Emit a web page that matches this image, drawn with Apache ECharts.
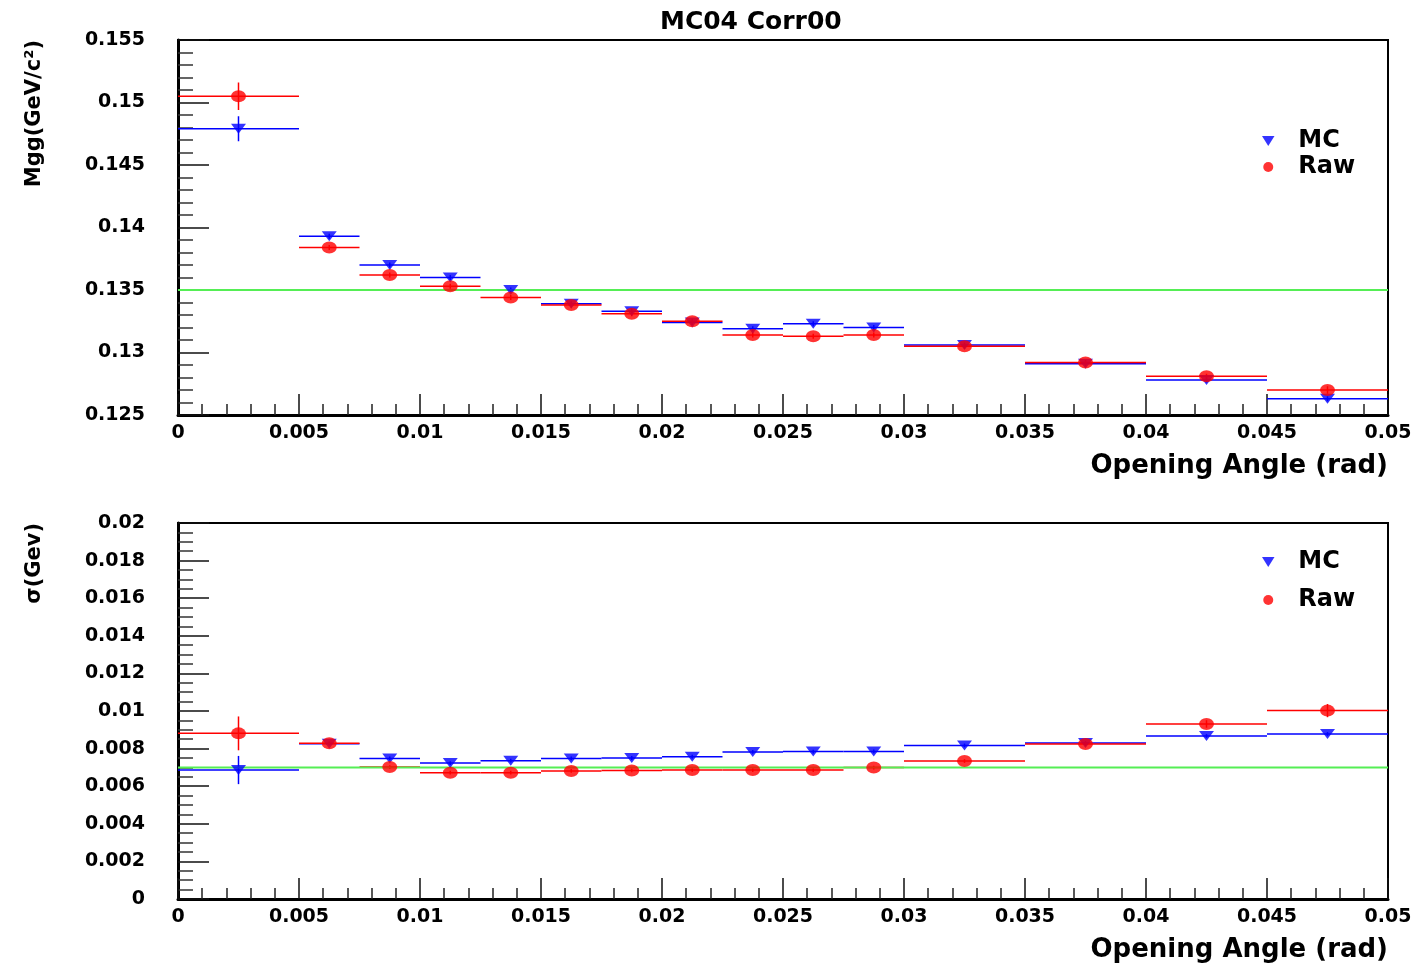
<!DOCTYPE html>
<html>
<head>
<meta charset="utf-8">
<script src="https://cdn.jsdelivr.net/npm/echarts@6/dist/echarts.min.js"></script>
<style>
html,body{margin:0;padding:0;background:#fff;}
#chart{width:1418px;height:968px;}
</style>
</head>
<body>
<div id="chart"></div>
<script>
// ---- data ----
const binLo = [0, 0.005, 0.0075, 0.01, 0.0125, 0.015, 0.0175, 0.02, 0.0225, 0.025, 0.0275, 0.03, 0.035, 0.04, 0.045];
const binHi = [0.005, 0.0075, 0.01, 0.0125, 0.015, 0.0175, 0.02, 0.0225, 0.025, 0.0275, 0.03, 0.035, 0.04, 0.045, 0.05];
const binCenter = [0.0025, 0.00625, 0.00875, 0.01125, 0.01375, 0.01625, 0.01875, 0.02125, 0.02375, 0.02625, 0.02875, 0.0325, 0.0375, 0.0425, 0.0475];

const mcMass = [0.1479, 0.1393, 0.1370, 0.1360, 0.1350, 0.1339, 0.1333, 0.1324, 0.1319, 0.1323, 0.1320, 0.1306, 0.1291, 0.1278, 0.1263];
const mcMassErr = [0.0010, 0.0002, 0.0002, 0.0002, 0.0002, 0.0002, 0.0002, 0.0002, 0.0002, 0.0002, 0.0002, 0.0002, 0.0002, 0.0002, 0.0002];
const rawMass = [0.1505, 0.1384, 0.1362, 0.1353, 0.1344, 0.1338, 0.1331, 0.1325, 0.1314, 0.1313, 0.1314, 0.1305, 0.1292, 0.1281, 0.1270];
const rawMassErr = [0.0011, 0.0002, 0.0002, 0.0002, 0.0002, 0.0002, 0.0002, 0.0002, 0.0002, 0.0002, 0.0002, 0.0002, 0.0002, 0.0002, 0.0003];

const mcSigma = [0.00686, 0.00826, 0.00748, 0.00723, 0.00736, 0.00748, 0.00750, 0.00757, 0.00782, 0.00784, 0.00785, 0.00817, 0.00830, 0.00867, 0.00878];
const mcSigmaErr = [0.00075, 0.0001, 0.0001, 0.0001, 0.0001, 0.0001, 0.0001, 0.0001, 0.0001, 0.0001, 0.0001, 0.0001, 0.0001, 0.0001, 0.0001];
const rawSigma = [0.00881, 0.00828, 0.00702, 0.00672, 0.00672, 0.00681, 0.00684, 0.00686, 0.00686, 0.00686, 0.00699, 0.00734, 0.00825, 0.00931, 0.01002];
const rawSigmaErr = [0.0009, 0.0001, 0.0001, 0.0001, 0.0001, 0.0001, 0.0001, 0.0001, 0.0001, 0.0001, 0.0001, 0.0001, 0.0001, 0.0002, 0.00035];

const pi0Mass = 0.135;
const refSigma = 0.007;

const xTickLabels = ['0', '0.005', '0.01', '0.015', '0.02', '0.025', '0.03', '0.035', '0.04', '0.045', '0.05'];
const yTopTickLabels = ['0.125', '0.13', '0.135', '0.14', '0.145', '0.15', '0.155'];
const yBotTickLabels = ['0', '0.002', '0.004', '0.006', '0.008', '0.01', '0.012', '0.014', '0.016', '0.018', '0.02'];

const titleText = 'MC04 Corr00';
const xTitle = 'Opening Angle (rad)';
const yTopTitle = 'Mgg(GeV/c²)';
const yBotTitle = 'σ(Gev)';

// ---- helpers ----
const FONT = 'DejaVu Sans';
const RED = '#ff0000', BLUE = '#0000ff', GREEN = '#55ee55';

function errData(vals, errs) {
  return vals.map((v, i) => [binLo[i], binHi[i], binCenter[i], v, errs[i]]);
}
function ptData(vals) { return vals.map((v, i) => [binCenter[i], v]); }

function makeErrRender(color) {
  return function (params, api) {
    const xlo = api.value(0), xhi = api.value(1), xc = api.value(2), y = api.value(3), e = api.value(4);
    const a = api.coord([xlo, y]), b = api.coord([xhi, y]);
    const c = api.coord([xc, y + e]), d = api.coord([xc, y - e]);
    const st = { stroke: color, lineWidth: 1.5 };
    return {
      type: 'group',
      children: [
        { type: 'line', shape: { x1: a[0], y1: a[1], x2: b[0], y2: b[1] }, style: st },
        { type: 'line', shape: { x1: c[0], y1: c[1], x2: d[0], y2: d[1] }, style: st }
      ]
    };
  };
}

function xAxisCfg(gridIndex) {
  return {
    type: 'value', gridIndex: gridIndex, min: 0, max: 0.05, interval: 0.005,
    name: xTitle, nameLocation: 'end', nameGap: 0,
    nameTextStyle: { fontFamily: FONT, fontWeight: 'bold', fontSize: 26, color: '#000', align: 'right', verticalAlign: 'top', padding: [38, 0, 0, 0] },
    axisLine: { show: true, onZero: false, lineStyle: { color: '#000', width: 3 } },
    axisTick: { show: true, inside: true, length: 21, lineStyle: { color: '#111', width: 1.5 } },
    minorTick: { show: true, splitNumber: 5, length: 11, lineStyle: { color: '#222', width: 1.5 } },
    splitLine: { show: false },
    axisLabel: {
      show: true, margin: 9, fontFamily: FONT, fontWeight: 'bold', fontSize: 19, color: '#000',
      showMinLabel: true, showMaxLabel: true,
      formatter: v => xTickLabels[Math.round(v / 0.005)]
    }
  };
}

function yAxisCfg(gridIndex, min, max, interval, minorSplit, labels) {
  return {
    type: 'value', gridIndex: gridIndex, min: min, max: max, interval: interval,
    axisLine: { show: true, onZero: false, lineStyle: { color: '#000', width: 3 } },
    axisTick: { show: true, inside: true, length: 31, lineStyle: { color: '#111', width: 1.5 } },
    minorTick: { show: true, splitNumber: minorSplit, length: 15, lineStyle: { color: '#333', width: 1.5 } },
    splitLine: { show: false },
    axisLabel: {
      show: true, margin: 33, fontFamily: FONT, fontWeight: 'bold', fontSize: 19, color: '#000',
      showMinLabel: true, showMaxLabel: true,
      formatter: v => labels[Math.round((v - min) / interval)]
    }
  };
}

const triPath = 'path://M0,0 L10,0 L5,8 Z';

const legendCommon = {
  orient: 'vertical', itemWidth: 50, itemHeight: 10, symbolKeepAspect: true,
  selectedMode: false,
  textStyle: { fontFamily: FONT, fontWeight: 'bold', fontSize: 24, color: '#000', lineHeight: 20 },
  data: [{ name: 'MC', icon: triPath }, { name: 'Raw', icon: 'circle' }]
};

const option = {
  animation: false,
  backgroundColor: '#fff',
  title: {
    text: titleText, left: 655, top: 5,
    textStyle: { fontFamily: FONT, fontWeight: 'bold', fontSize: 25, color: '#000' }
  },
  legend: [
    Object.assign({}, legendCommon, { left: 1257, top: 124, itemGap: 2 }),
    Object.assign({}, legendCommon, { left: 1257, top: 545, itemGap: 14 })
  ],
  grid: [
    { left: 178, top: 40, width: 1210, height: 375, show: true, borderColor: '#000', borderWidth: 2, backgroundColor: 'transparent' },
    { left: 178, top: 523, width: 1210, height: 376, show: true, borderColor: '#000', borderWidth: 2, backgroundColor: 'transparent' }
  ],
  xAxis: [xAxisCfg(0), xAxisCfg(1)],
  yAxis: [
    yAxisCfg(0, 0.125, 0.155, 0.005, 5, yTopTickLabels),
    yAxisCfg(1, 0, 0.02, 0.002, 4, yBotTickLabels)
  ],
  graphic: [
    { type: 'text', x: 35, y: 40, rotation: Math.PI / 2, style: { text: yTopTitle, align: 'right', verticalAlign: 'middle', font: 'bold 21px "DejaVu Sans"', fill: '#000' } },
    { type: 'text', x: 35, y: 523, rotation: Math.PI / 2, style: { text: yBotTitle, align: 'right', verticalAlign: 'middle', font: 'bold 21px "DejaVu Sans"', fill: '#000' } }
  ],
  series: [
    // top panel
    { name: 'MCerr', type: 'custom', xAxisIndex: 0, yAxisIndex: 0, z: 2, renderItem: makeErrRender(BLUE), encode: { x: [0, 1, 2], y: [3] }, data: errData(mcMass, mcMassErr) },
    { name: 'Rawerr', type: 'custom', xAxisIndex: 0, yAxisIndex: 0, z: 2, renderItem: makeErrRender(RED), encode: { x: [0, 1, 2], y: [3] }, data: errData(rawMass, rawMassErr) },
    { name: 'ref', type: 'line', xAxisIndex: 0, yAxisIndex: 0, z: 3, showSymbol: false, symbol: 'none', lineStyle: { color: GREEN, width: 2 }, data: [[0, pi0Mass], [0.05, pi0Mass]] },
    { name: 'MC', type: 'scatter', xAxisIndex: 0, yAxisIndex: 0, z: 4, symbol: 'triangle', symbolRotate: 180, symbolSize: [15, 10], itemStyle: { color: BLUE }, data: ptData(mcMass) },
    { name: 'Raw', type: 'scatter', xAxisIndex: 0, yAxisIndex: 0, z: 5, symbol: 'circle', symbolSize: [15, 12], itemStyle: { color: RED }, data: ptData(rawMass) },
    // bottom panel
    { name: 'MCerr2', type: 'custom', xAxisIndex: 1, yAxisIndex: 1, z: 2, renderItem: makeErrRender(BLUE), encode: { x: [0, 1, 2], y: [3] }, data: errData(mcSigma, mcSigmaErr) },
    { name: 'Rawerr2', type: 'custom', xAxisIndex: 1, yAxisIndex: 1, z: 2, renderItem: makeErrRender(RED), encode: { x: [0, 1, 2], y: [3] }, data: errData(rawSigma, rawSigmaErr) },
    { name: 'ref2', type: 'line', xAxisIndex: 1, yAxisIndex: 1, z: 3, showSymbol: false, symbol: 'none', lineStyle: { color: GREEN, width: 2 }, data: [[0, refSigma], [0.05, refSigma]] },
    { name: 'MC', type: 'scatter', xAxisIndex: 1, yAxisIndex: 1, z: 4, symbol: 'triangle', symbolRotate: 180, symbolSize: [15, 10], itemStyle: { color: BLUE }, data: ptData(mcSigma) },
    { name: 'Raw', type: 'scatter', xAxisIndex: 1, yAxisIndex: 1, z: 5, symbol: 'circle', symbolSize: [15, 12], itemStyle: { color: RED }, data: ptData(rawSigma) }
  ]
};

const chart = echarts.init(document.getElementById('chart'), null, { renderer: 'canvas' });
chart.setOption(option);
</script>
</body>
</html>
